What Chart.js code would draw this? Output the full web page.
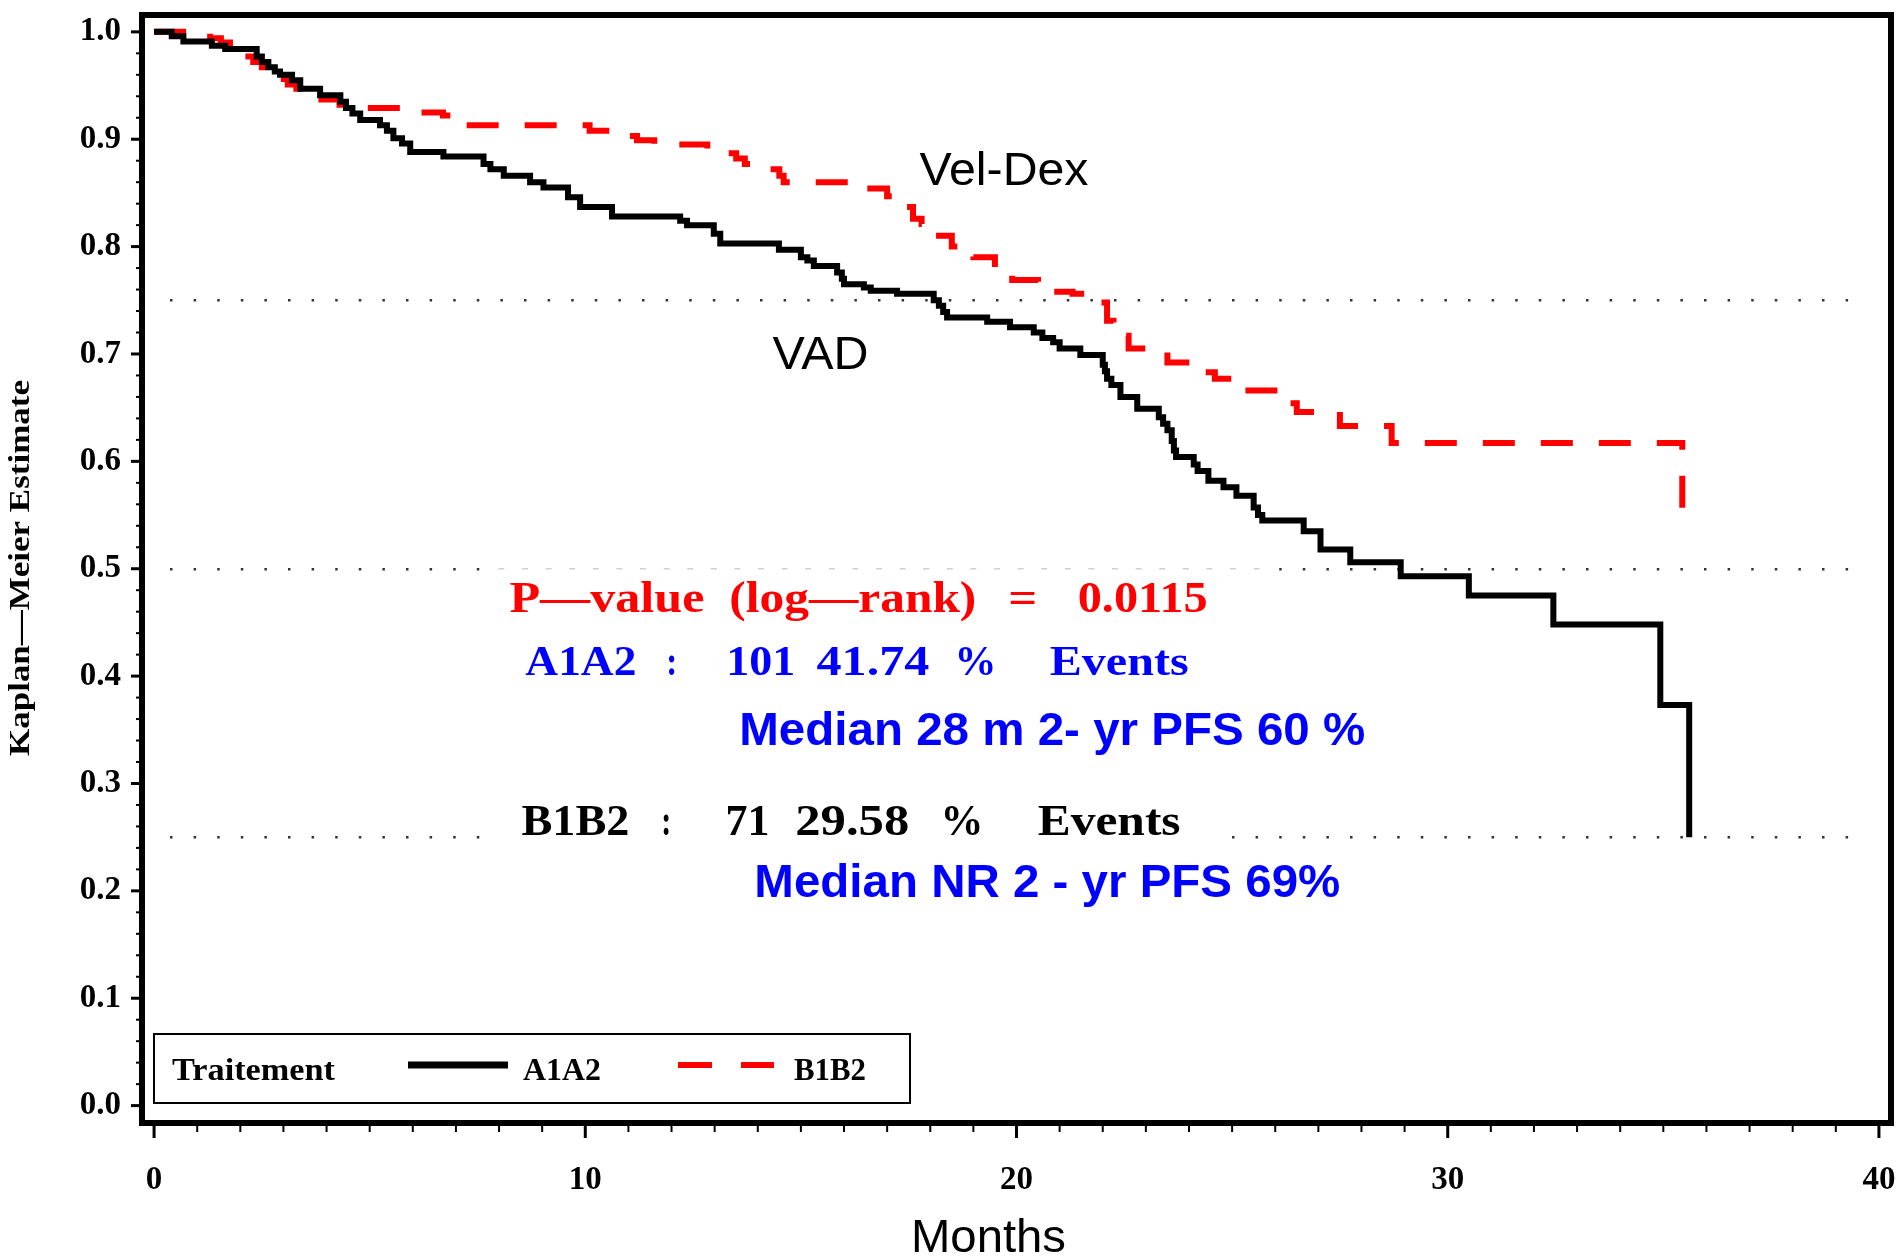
<!DOCTYPE html>
<html>
<head>
<meta charset="utf-8">
<title>Kaplan-Meier PFS</title>
<script src="https://cdn.jsdelivr.net/npm/chart.js@4.4.1/dist/chart.umd.min.js"></script>
<style>
  html, body { margin: 0; padding: 0; background: #fff; }
  #wrap { width: 1903px; height: 1257px; position: relative; }
</style>
</head>
<body>
<div id="wrap"><canvas id="kmChart"></canvas></div>
<script>
// Kaplan-Meier estimates (month of drop, survival after drop)
const monthsA = [0, 0.41, 0.68, 1.34, 1.65, 2.38, 2.5, 2.65, 2.8, 2.92, 3.2, 3.39, 3.85, 4.32, 4.45, 4.6, 4.78, 5.24, 5.4, 5.55,
  5.75, 5.94, 6.71, 7.64, 7.8, 8.11, 8.72, 9.03, 9.6, 9.88, 10.62, 12.2, 12.36, 12.98, 13.13, 14.49, 15.0, 15.15, 15.3, 15.84,
  15.95, 16.0, 16.46, 16.62, 17.23, 18.08, 18.2, 18.3, 18.39, 19.32, 19.85, 20.4, 20.6, 20.85, 21.0, 21.48, 22.0, 22.05, 22.1, 22.2,
  22.41, 22.8, 23.3, 23.4, 23.5, 23.6, 23.65, 23.7, 24.11, 24.2, 24.45, 24.8, 25.1, 25.5, 25.6, 25.7, 26.66, 27.05, 27.74, 28.91,
  30.49, 32.45, 34.93, 35.6];
const survA = [1.0, 0.996, 0.991, 0.987, 0.984, 0.977, 0.972, 0.967, 0.963, 0.960, 0.955, 0.947, 0.941, 0.935, 0.929, 0.924, 0.918, 0.913, 0.908, 0.901,
  0.896, 0.888, 0.884, 0.877, 0.872, 0.866, 0.860, 0.855, 0.846, 0.837, 0.828, 0.824, 0.820, 0.812, 0.803, 0.797, 0.790, 0.787, 0.782, 0.776,
  0.770, 0.765, 0.762, 0.759, 0.756, 0.750, 0.745, 0.739, 0.734, 0.730, 0.725, 0.720, 0.715, 0.711, 0.705, 0.699, 0.690, 0.684, 0.677, 0.671,
  0.660, 0.649, 0.641, 0.635, 0.629, 0.619, 0.610, 0.604, 0.597, 0.591, 0.582, 0.576, 0.568, 0.557, 0.550, 0.545, 0.535, 0.518, 0.506, 0.493,
  0.475, 0.448, 0.373, 0.25];

const monthsB = [0, 1.3, 1.55, 1.76, 2.0, 2.3, 2.5, 2.9, 3.1, 3.3, 3.7, 4.3, 4.5, 6.0, 6.7, 7.1, 10.1, 10.62, 11.2, 11.6,
  12.83, 13.5, 13.7, 14.0, 14.5, 14.6, 16.2, 17.0, 17.2, 17.4, 17.6, 17.8, 18.1, 18.5, 18.7, 19.0, 19.5, 19.9, 20.5, 21.3,
  21.5, 21.8, 22.1, 22.25, 22.4, 22.6, 23.2, 23.5, 24.2, 24.6, 25.2, 26.3, 26.5, 27.5, 28.7, 35.44];
const survB = [1.0, 0.994, 0.990, 0.986, 0.977, 0.972, 0.967, 0.956, 0.951, 0.947, 0.937, 0.932, 0.929, 0.925, 0.922, 0.913, 0.908, 0.903, 0.899, 0.895,
  0.887, 0.882, 0.877, 0.872, 0.866, 0.860, 0.854, 0.847, 0.842, 0.837, 0.826, 0.821, 0.810, 0.800, 0.795, 0.790, 0.778, 0.769, 0.758, 0.756,
  0.752, 0.748, 0.731, 0.724, 0.717, 0.705, 0.702, 0.692, 0.683, 0.677, 0.666, 0.654, 0.646, 0.633, 0.617, 0.537];

const seriesNames = ['A1A2', 'B1B2'];
const legendTitle = 'Traitement';
const xTicks = [0, 10, 20, 30, 40];
const yTicks = [0, 0.1, 0.2, 0.3, 0.4, 0.5, 0.6, 0.7, 0.8, 0.9, 1.0];
const refLevels = [0.25, 0.5, 0.75];

// Annotation text, anchored in data units (month, survival); w = width in px
const notes = [
  { t: 'Vel-Dex', m: 17.75, s: 0.857, w: 169, font: '46px "Liberation Sans"', c: '#000' },
  { t: 'VAD', m: 14.34, s: 0.686, w: 96, font: '46px "Liberation Sans"', c: '#000' },
  { t: 'P\u2014value', m: 8.24, s: 0.4595, w: 195, font: 'bold 45px "Liberation Serif"', c: '#ff0000' },
  { t: '(log\u2014rank)', m: 13.34, s: 0.4595, w: 247, font: 'bold 45px "Liberation Serif"', c: '#ff0000' },
  { t: '=', m: 19.81, s: 0.4595, w: 29, font: 'bold 45px "Liberation Serif"', c: '#ff0000' },
  { t: '0.0115', m: 21.42, s: 0.4595, w: 130, font: 'bold 45px "Liberation Serif"', c: '#ff0000' },
  { t: 'A1A2', m: 8.61, s: 0.4008, w: 111, font: 'bold 42px "Liberation Serif"', c: '#0000ff' },
  { t: ':', m: 11.88, s: 0.4008, w: 11, font: 'bold 42px "Liberation Serif"', c: '#0000ff' },
  { t: '101', m: 13.27, s: 0.4008, w: 69, font: 'bold 42px "Liberation Serif"', c: '#0000ff' },
  { t: '41.74', m: 15.36, s: 0.4008, w: 113, font: 'bold 42px "Liberation Serif"', c: '#0000ff' },
  { t: '%', m: 18.56, s: 0.4008, w: 42, font: 'bold 42px "Liberation Serif"', c: '#0000ff' },
  { t: 'Events', m: 20.77, s: 0.4008, w: 139, font: 'bold 42px "Liberation Serif"', c: '#0000ff' },
  { t: 'Median 28 m 2- yr PFS 60 %', m: 13.57, s: 0.3357, w: 626, font: 'bold 46px "Liberation Sans"', c: '#0000ff' },
  { t: 'B1B2', m: 8.52, s: 0.2519, w: 108, font: 'bold 45px "Liberation Serif"', c: '#000' },
  { t: ':', m: 11.76, s: 0.2519, w: 10, font: 'bold 45px "Liberation Serif"', c: '#000' },
  { t: '71', m: 13.25, s: 0.2519, w: 44, font: 'bold 45px "Liberation Serif"', c: '#000' },
  { t: '29.58', m: 14.87, s: 0.2519, w: 114, font: 'bold 45px "Liberation Serif"', c: '#000' },
  { t: '%', m: 18.24, s: 0.2519, w: 43, font: 'bold 45px "Liberation Serif"', c: '#000' },
  { t: 'Events', m: 20.49, s: 0.2519, w: 143, font: 'bold 45px "Liberation Serif"', c: '#000' },
  { t: 'Median NR 2 - yr PFS 69%', m: 13.92, s: 0.1941, w: 586, font: 'bold 46px "Liberation Sans"', c: '#0000ff' }
];

function toPoints(xs, ys) {
  return xs.map((x, i) => ({ x: x, y: ys[i] }));
}

// Draw text stretched/squeezed to a given width
function fitText(ctx, text, x, y, width, font, color) {
  ctx.save();
  ctx.font = font;
  ctx.fillStyle = color;
  ctx.textAlign = 'left';
  ctx.textBaseline = 'alphabetic';
  const w = ctx.measureText(text).width;
  ctx.translate(x, y);
  ctx.scale(width / w, 1);
  ctx.fillText(text, 0, 0);
  ctx.restore();
}

// Dotted reference line; "skip" hides dots under the pasted text block
function drawDots(ctx, yPix, x0, x1, skip, faint) {
  for (let px = x0; px <= x1; px += 23.6) {
    if (skip && px >= skip[0] && px <= skip[1]) {
      if (faint) {
        ctx.fillStyle = '#d0d0d0';
        ctx.fillRect(px - 3, yPix - 1, 6, 1.5);
      }
      continue;
    }
    ctx.fillStyle = '#333';
    ctx.fillRect(px - 1, yPix - 1, 2.5, 2.5);
  }
}

const kmDecor = {
  id: 'kmDecor',
  beforeDatasetsDraw(chart) {
    const { ctx, chartArea, scales } = chart;
    ctx.save();
    refLevels.forEach(level => {
      const yPix = Math.round(scales.y.getPixelForValue(level));
      if (level === 0.5) drawDots(ctx, yPix, chartArea.left + 29, chartArea.right - 22, [495, 1262], true);
      else if (level === 0.25) drawDots(ctx, yPix, chartArea.left + 29, chartArea.right - 22, [495, 1215], false);
      else drawDots(ctx, yPix, chartArea.left + 29, chartArea.right - 22, null, false);
    });
    ctx.restore();
  },
  afterDatasetsDraw(chart) {
    const { ctx, scales } = chart;
    notes.forEach(n => {
      fitText(ctx, n.t, scales.x.getPixelForValue(n.m), scales.y.getPixelForValue(n.s), n.w, n.font, n.c);
    });
  },
  afterDraw(chart) {
    const { ctx, chartArea, scales } = chart;
    const L = chartArea.left, R = chartArea.right, T = chartArea.top, B = chartArea.bottom;
    ctx.save();

    // frame
    ctx.strokeStyle = '#000';
    ctx.lineWidth = 6;
    ctx.strokeRect(L, T, R - L, B - T);

    // y ticks (minor every 0.02)
    for (let i = 0; i <= 50; i++) {
      const yPix = scales.y.getPixelForValue(i / 50);
      const major = i % 5 === 0;
      ctx.lineWidth = major ? 3 : 2;
      ctx.beginPath();
      ctx.moveTo(L, yPix);
      ctx.lineTo(major ? L - 11 : L - 6, yPix);
      ctx.stroke();
    }
    // x ticks (minor every month)
    for (let m = 0; m <= 40; m++) {
      const xPix = scales.x.getPixelForValue(m);
      const major = m % 10 === 0;
      ctx.lineWidth = major ? 3 : 2;
      ctx.beginPath();
      ctx.moveTo(xPix, B);
      ctx.lineTo(xPix, major ? B + 15 : B + 9);
      ctx.stroke();
    }

    // legend box
    const lx = L + 12, ly = B - 89;
    ctx.lineWidth = 2;
    ctx.strokeRect(lx, ly, 756, 69);
    const font = 'bold 32px "Liberation Serif"';
    fitText(ctx, legendTitle, lx + 18, ly + 46, 163, font, '#000');
    ctx.strokeStyle = '#000';
    ctx.lineWidth = 7;
    ctx.beginPath();
    ctx.moveTo(lx + 254, ly + 31);
    ctx.lineTo(lx + 354, ly + 31);
    ctx.stroke();
    fitText(ctx, seriesNames[0], lx + 369, ly + 46, 78, font, '#000');
    ctx.strokeStyle = '#ff0000';
    ctx.lineWidth = 6;
    ctx.beginPath();
    ctx.moveTo(lx + 524, ly + 31);
    ctx.lineTo(lx + 558, ly + 31);
    ctx.moveTo(lx + 587, ly + 31);
    ctx.lineTo(lx + 620, ly + 31);
    ctx.stroke();
    fitText(ctx, seriesNames[1], lx + 640, ly + 46, 72, font, '#000');

    // axis titles
    ctx.save();
    ctx.translate(29, 756);
    ctx.rotate(-Math.PI / 2);
    fitText(ctx, 'Kaplan\u2014Meier Estimate', 0, 0, 376, 'bold 30px "Liberation Serif"', '#000');
    ctx.restore();
    fitText(ctx, 'Months', 911, 1252, 155, '47px "Liberation Sans"', '#000');

    ctx.restore();
  }
};

new Chart(document.getElementById('kmChart'), {
  type: 'line',
  data: {
    datasets: [
      {
        label: seriesNames[0],
        data: toPoints(monthsA, survA),
        borderColor: '#000',
        borderWidth: 6,
        stepped: true,
        pointRadius: 0,
        fill: false,
        borderCapStyle: 'butt',
        borderJoinStyle: 'miter'
      },
      {
        label: seriesNames[1],
        data: toPoints(monthsB, survB),
        borderColor: '#ff0000',
        borderWidth: 6,
        borderDash: [32, 26],
        stepped: true,
        pointRadius: 0,
        fill: false,
        borderCapStyle: 'butt',
        borderJoinStyle: 'miter'
      }
    ]
  },
  options: {
    responsive: true,
    maintainAspectRatio: false,
    animation: false,
    devicePixelRatio: 1,
    events: [],
    layout: { padding: { top: 15, right: 12, left: 0, bottom: 0 } },
    plugins: {
      legend: { display: false },
      tooltip: { enabled: false }
    },
    scales: {
      x: {
        type: 'linear',
        position: 'bottom',
        min: -0.28,
        max: 40.28,
        afterBuildTicks: s => { s.ticks = xTicks.map(v => ({ value: v })); },
        afterFit: s => {
          s.height = 134;
          s.paddingLeft = 0;
          s.paddingRight = 0;
        },
        grid: { display: false, drawTicks: false },
        border: { display: false },
        ticks: {
          autoSkip: false,
          maxRotation: 0,
          padding: 38,
          color: '#000',
          font: { family: 'Liberation Serif', size: 33, weight: 'bold' },
          callback: v => String(v)
        }
      },
      y: {
        type: 'linear',
        min: -0.0162,
        max: 1.0157,
        afterBuildTicks: s => { s.ticks = yTicks.map(v => ({ value: v })); },
        afterFit: s => {
          s.width = 142;
          s.paddingTop = 0;
          s.paddingBottom = 0;
        },
        grid: { display: false, drawTicks: false },
        border: { display: false },
        ticks: {
          padding: 21,
          color: '#000',
          font: { family: 'Liberation Serif', size: 33, weight: 'bold' },
          callback: v => v.toFixed(1)
        }
      }
    }
  },
  plugins: [kmDecor]
});
</script>
</body>
</html>
